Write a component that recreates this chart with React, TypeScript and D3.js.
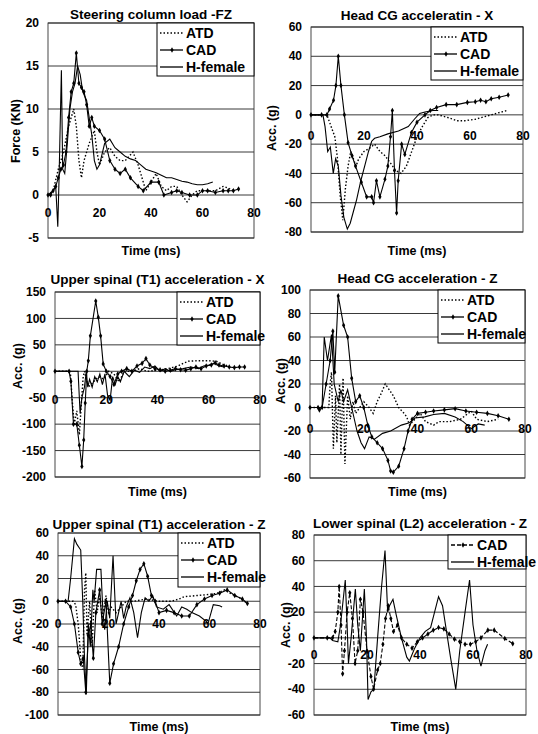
import * as d3 from 'd3';

type Pt = [number, number];

const xTicks = [0, 20, 40, 60, 80];

// Steering column load -FZ (kN)
const fzTicks = [-5, 0, 5, 10, 15, 20];
const fzATD: Pt[] = [[0,0],[2,0.5],[4,3],[6,5],[8,8],[10,10],[11,8],[12,4],[13,2],[14,4],[16,6],[18,7.5],[19,5],[20,3.5],[22,5],[24,5.5],[26,4.5],[28,4],[30,4],[33,5],[35,3.5],[38,0.5],[40,1.5],[42,2.5],[44,1],[46,0.5],[48,1],[50,1],[52,0],[54,-0.8],[56,0],[58,0.5],[62,0.5],[65,0.5],[68,1],[70,0.8],[72,0.5]];
const fzCAD: Pt[] = [[0,0],[1,0],[2,0.5],[3,1],[4,2],[5,3],[6,3.5],[7,5],[8,9],[9,12],[10,13],[11,16.5],[12,13],[13,12.5],[14,12],[15,10.5],[16,8],[17,9],[18,8],[20,7.5],[22,6.5],[24,4],[26,3],[28,2.5],[30,3],[32,2],[35,1],[37,0.5],[40,1.5],[43,1.5],[45,0],[48,0.3],[50,0.5],[52,0.3],[55,0],[58,0],[60,0.5],[62,0.5],[65,0.3],[68,0.5],[70,0.5],[72,0.5],[74,0.7]];
const fzHF: Pt[] = [[0,0],[2,0.5],[3,1],[3.8,-3.7],[4.3,2],[5.2,14.5],[5.7,3],[6.5,2.5],[7.5,6],[8.5,10],[9.5,12],[10.5,13],[11.5,15],[12.5,14],[13.5,12],[15,11],[16,9],[17,7],[18,4],[19,3],[20,3.5],[22,6],[24,6.5],[26,5.5],[28,5],[30,4.5],[32,4.2],[34,4],[36,3.5],[38,3],[40,2.8],[42,2.6],[44,2.3],[46,2],[48,2],[50,1.8],[52,1.6],[54,1.5],[56,1.3],[58,1.2],[60,1.2],[62,1.3],[64,1.5]];

// Head CG acceleration - X (g)
const hxTicks = [-80, -60, -40, -20, 0, 20, 40, 60];
const hxATD: Pt[] = [[0,0],[4,0],[6,0],[7,-5],[8,-10],[9,-15],[10,-30],[11,-55],[12,-72],[13,-50],[14,-35],[15,-25],[16,-30],[17,-35],[18,-30],[20,-25],[22,-23],[24,-20],[26,-25],[28,-28],[30,-33],[32,-38],[34,-40],[36,-35],[38,-25],[40,-15],[42,-8],[44,-2],[46,0],[48,0],[50,-1],[52,-2],[55,-4],[58,-4],[62,-3],[66,-1],[70,1],[74,3]];
const hxCAD: Pt[] = [[0,0],[4,0],[6,0],[7,4],[8.5,10],[9.4,20],[10.3,40],[11.3,20],[12.6,0],[14,-19],[15.5,-28],[16.8,-35],[19,-46],[21,-56],[22.9,-56],[23.6,-60],[24.7,-45],[26,-56],[27.9,-44],[29,-35],[30,-15],[30.7,3],[31.5,-38],[32.3,-67],[32.9,-45],[34.2,-20],[35.4,-27],[37.9,-12],[40,-5],[43,0],[45,3],[47.4,5],[51,7],[55,7],[59,8.5],[62,9],[64,10],[66,9],[68,11],[71,12],[74.4,13.6]];
const hxHF: Pt[] = [[0,0],[4.5,0],[5.3,-8],[6.3,-25],[7.3,-22],[8.4,-40],[9.3,-30],[10.3,-35],[11.3,-55],[12.4,-70],[13.7,-78],[14.8,-74],[16,-66],[17.2,-58],[18.8,-45],[20.4,-34],[21.7,-25],[22.9,-18],[24,-16],[26,-15],[29,-13],[33,-11],[36.7,-8],[39,-3],[41,1],[43,2],[46,3],[48,3]];

// Upper spinal (T1) acceleration - X (g)
const t1xTicks = [-200, -150, -100, -50, 0, 50, 100, 150];
const t1xATD: Pt[] = [[0,0],[5,0],[6,-3],[6.8,-60],[7.5,-100],[8.5,-75],[9.5,-120],[10.3,-60],[11,-10],[11.5,0],[13,-30],[15,-20],[17,-10],[19,-15],[21,0],[23,-5],[25,-20],[27,0],[30,0],[33,5],[36,0],[40,2],[44,5],[48,10],[50,15],[52,19],[56,20],[60,20],[63,19],[66,12],[68,10]];
const t1xCAD: Pt[] = [[0,0],[5.5,0],[6.2,-19],[7.2,-100],[8.5,-100],[9.5,-140],[10.5,-180],[11.2,-130],[11.8,-60],[12.4,0],[13,20],[13.8,67],[15.9,133],[16.9,102],[17.8,67],[18.8,14],[20,0],[21.5,-10],[23,-25],[24.5,-5],[26,0],[28,5],[30,0],[32,10],[34,15],[35.5,24],[37,12],[39,5],[41,3],[43,0],[45,2],[47,5],[49,3],[51,2],[53,5],[55,8],[57,5],[59,10],[61,12],[62.5,16],[64,12],[66,10],[68,8],[70,7],[72,8],[74,8]];
const t1xHF: Pt[] = [[0,0],[9,0],[9.8,-80],[10.5,-50],[11.5,-30],[12.2,0],[12.8,-30],[13.5,-15],[14.5,-30],[15.5,-10],[16.5,-20],[17.5,-5],[18.5,-25],[19.5,-5],[20.5,-45],[21.5,-55],[22.5,-10],[23.5,-25],[24.5,-10],[25.5,-20],[27,0],[29,-10],[31,2],[33,-2],[35,8],[37,5],[39,10],[41,0],[43,5],[45,0],[47,3],[50,5],[53,8],[56,5],[58,10],[60,12],[62,15],[64,10],[66,8]];

// Head CG acceleration - Z (g)
const hzTicks = [-60, -40, -20, 0, 20, 40, 60, 80, 100];
const hzATD: Pt[] = [[0,0],[7,0],[7.5,20],[8,30],[8.7,-35],[9.5,10],[10,-30],[11,20],[11.5,-40],[12.3,25],[13,-48],[14,10],[15,-10],[16,5],[17,-5],[18.5,0],[20,5],[22,0],[23.5,-5],[25,5],[26.5,12],[28,20],[29.5,15],[31,10],[33,0],[35,-5],[36,-8],[37,-15],[39,-10],[41,-5],[43,-12],[46,-15],[48,-12],[52,-12],[56,-10],[60,-3],[62,-10],[66,-12],[70,-10]];
const hzCAD: Pt[] = [[0,0],[3,0],[3.5,-2],[4.5,0],[6,20],[7.5,40],[8.5,65],[9.2,30],[10.5,95],[12.5,70],[14,60],[15.5,25],[17,5],[18.5,10],[20,0],[21.5,-15],[23,-25],[25,-30],[27,-35],[29,-45],[30,-54],[31,-55],[33,-50],[35,-35],[36.5,-20],[38,-10],[40,-5],[43,-4],[46,-3],[50,-2],[54,-1],[58,-3],[62,-4],[66,-5],[70,-7],[74,-10]];
const hzHF: Pt[] = [[0,0],[4.5,0],[5.3,60],[6.5,40],[8,62],[9,20],[10.5,5],[11.5,15],[12.5,5],[14,15],[15,5],[16.5,-10],[17.5,-20],[19,-30],[20.3,-35],[22,-25],[24,-27],[27,-22],[30,-20],[34,-15],[37,-13],[39,-9],[42.7,-8],[46,-6],[50,-5],[54,-8],[57,-12],[60,-18],[62.6,-14],[65,-15]];

// Upper spinal (T1) acceleration - Z (g)
const t1zTicks = [-100, -80, -60, -40, -20, 0, 20, 40, 60];
const t1zATD: Pt[] = [[0,0],[6,0],[7,-3],[8,-20],[9,-50],[9.8,-60],[10.5,10],[11,25],[11.5,-30],[12.5,0],[13.5,-40],[14.5,10],[15.5,-10],[16.5,5],[17.5,-15],[19,5],[20,-10],[21,-5],[23,-10],[25,-5],[27,0],[30,0],[35,2],[40,0],[45,0],[48,2],[50,4],[55,5],[60,6],[63,7],[66,10],[69,6],[72,3],[75,-2]];
const t1zCAD: Pt[] = [[0,0],[3,0],[5,-5],[6.5,-20],[8,-45],[9,-55],[10,-50],[11,-80],[12,-30],[13,-20],[14,-50],[15,-10],[16.5,10],[17.5,-20],[19,0],[20.5,-72],[22,-55],[24,-40],[26,-20],[28,-5],[29.5,5],[31,18],[32.5,28],[34,33],[35.5,22],[37,5],[38.5,0],[40,-10],[43,-8],[46,-10],[49,-13],[52,-13],[55,-3],[58,2],[61,5],[64,7],[67,10],[70,5],[73,2],[75,-2]];
const t1zHF: Pt[] = [[0,0],[4,0],[5,20],[6.5,55],[7.5,50],[9,45],[9.8,0],[10.5,-50],[11.2,-82],[12,-20],[12.8,-40],[13.8,10],[14.3,0],[15.3,28],[17,28],[17.8,-10],[18.5,-25],[19.5,0],[20.5,-15],[21.8,40],[23,-20],[24,-10],[25,0],[26,-15],[27,-5],[28.5,3],[30,-10],[31.5,-32],[33,-10],[34.5,3],[36,0],[37.5,5],[39,-5],[41.7,-7],[44,-3],[47,-13],[49,-5],[51,-7],[53,-10],[56,-13],[59.5,-19],[61.5,-3],[64,-4],[65,-5]];

// Lower spinal (L2) acceleration - Z (g)
const l2zTicks = [-60, -40, -20, 0, 20, 40, 60, 80];
const l2zCAD: Pt[] = [[0,0],[5,0],[7,0],[8,5],[9,20],[9.5,40],[10.2,10],[10.8,-28],[11.5,-10],[12.5,20],[13.5,35],[14.5,15],[15.5,-20],[16.5,-10],[17.5,30],[18.5,20],[20,-10],[21.5,-30],[22.5,-40],[24,-25],[25,-20],[26,-5],[27,15],[28,25],[29,15],[30,5],[31.5,10],[33,0],[35,-5],[37,-8],[39,-3],[41,0],[43,3],[45,6],[47,8],[49,7],[51,3],[53,-1],[55,-3],[57,-5],[59,-5],[61,-3],[63,0],[65.6,6],[68,6],[72,-0.5],[75,-4.5]];
const l2zHF: Pt[] = [[0,0],[6,0],[7,-2],[9,-3],[10,10],[11.8,45],[12.5,10],[13,-20],[14,0],[15.6,38],[16.5,10],[17.5,-10],[19,38],[19.8,0],[20.4,-48],[21.5,-42],[22.6,-40],[24,0],[25.5,40],[26.8,68],[27.8,20],[28.5,25],[29.8,30],[31,18],[33,0],[35,-15],[36,-18],[38,-8],[40,0],[42,5],[44,8],[45.5,20],[47,32],[48.5,25],[50,5],[51.5,-15],[53.5,-40],[55,-10],[57,20],[58.7,45],[60,10],[61.5,-10],[63,-22],[64.5,-10],[65.5,-5]];

type Kind = 'dot' | 'mark' | 'solid' | 'dashmark';
type Panel = {
  title: string; yLabel: string; ticks: number[];
  l: number; r: number; t: number; b: number;
  titleY: number; xTitleY: number; tickDy: number;
  yLab: [number, number]; leg: [number, number];
  series: [string, Pt[], Kind][];
};

const panels: Panel[] = [
  { title: 'Steering column load -FZ', yLabel: 'Force (KN)', ticks: fzTicks,
    l: 48, r: 254, t: 23, b: 238, titleY: 19, xTitleY: 255, tickDy: 18,
    yLab: [16, 131], leg: [157, 76],
    series: [['ATD', fzATD, 'dot'], ['CAD', fzCAD, 'mark'], ['H-female', fzHF, 'solid']] },
  { title: 'Head CG acceleratin - X', yLabel: 'Acc. (g)', ticks: hxTicks,
    l: 311, r: 523, t: 27, b: 232, titleY: 20, xTitleY: 255, tickDy: 21,
    yLab: [272, 128], leg: [431, 80],
    series: [['ATD', hxATD, 'dot'], ['CAD', hxCAD, 'mark'], ['H-female', hxHF, 'solid']] },
  { title: 'Upper spinal (T1) acceleration - X', yLabel: 'Acc. (g)', ticks: t1xTicks,
    l: 55, r: 260, t: 292, b: 477, titleY: 284, xTitleY: 496, tickDy: 29,
    yLab: [18, 366], leg: [177, 345],
    series: [['ATD', t1xATD, 'dot'], ['CAD', t1xCAD, 'mark'], ['H-female', t1xHF, 'solid']] },
  { title: 'Head CG acceleration - Z', yLabel: 'Acc. (g)', ticks: hzTicks,
    l: 310, r: 525, t: 290, b: 478, titleY: 283, xTitleY: 496, tickDy: 21,
    yLab: [281, 381], leg: [438, 343],
    series: [['ATD', hzATD, 'dot'], ['CAD', hzCAD, 'mark'], ['H-female', hzHF, 'solid']] },
  { title: 'Upper spinal (T1) acceleration - Z', yLabel: 'Acc. (g)', ticks: t1zTicks,
    l: 58, r: 260, t: 533, b: 715, titleY: 529, xTitleY: 731, tickDy: 23,
    yLab: [18, 621], leg: [178, 587],
    series: [['ATD', t1zATD, 'dot'], ['CAD', t1zCAD, 'mark'], ['H-female', t1zHF, 'solid']] },
  { title: 'Lower spinal (L2) acceleration - Z', yLabel: 'Acc. (g)', ticks: l2zTicks,
    l: 314, r: 526, t: 535, b: 715, titleY: 528, xTitleY: 731, tickDy: 17,
    yLab: [286, 625], leg: [448, 569],
    series: [['CAD', l2zCAD, 'dashmark'], ['H-female', l2zHF, 'solid']] },
];

const font = "'Liberation Sans', Arial, sans-serif";
const diamond = d3.symbol().type(d3.symbolDiamond).size(9)() as string;

function Chart({ p }: { p: Panel }) {
  const x = d3.scaleLinear().domain([0, 80]).range([p.l, p.r]);
  const y = d3.scaleLinear().domain(d3.extent(p.ticks) as [number, number]).range([p.b, p.t]);
  const line = d3.line<Pt>().x(d => x(d[0])).y(d => y(d[1]));
  const dash = (k: Kind) => (k === 'dot' ? '1.5 2' : k === 'dashmark' ? '4 2' : undefined);

  return (
    <g>
      <text x={(p.l + p.r) / 2} y={p.titleY} textAnchor="middle" fontSize={13.5}>{p.title}</text>
      {p.ticks.map(v => (
        <line key={v} x1={p.l} x2={p.r} y1={y(v)} y2={y(v)} stroke="#222" strokeWidth={0.9} />
      ))}
      <rect x={p.l} y={p.t} width={p.r - p.l} height={p.b - p.t} fill="none" stroke="#333" strokeWidth={0.9} />
      {p.ticks.map(v => (
        <text key={v} x={p.l - 9} y={y(v)} dy="0.35em" textAnchor="end" fontSize={12}>{v}</text>
      ))}
      {p.series.map(([name, data, kind]) => (
        <g key={name}>
          <path d={line(data) ?? ''} fill="none" stroke="#000" strokeWidth={kind === 'dot' ? 1.4 : 1.1}
            strokeDasharray={dash(kind)} />
          {(kind === 'mark' || kind === 'dashmark') && data.map((d, i) => (
            <path key={i} d={diamond} transform={`translate(${x(d[0])},${y(d[1])})`} fill="#000" />
          ))}
        </g>
      ))}
      {xTicks.map(v => (
        <text key={v} x={x(v)} y={y(0) + p.tickDy} dy="0.35em" textAnchor="middle" fontSize={12}>{v}</text>
      ))}
      <text x={(p.l + p.r) / 2} y={p.xTitleY} textAnchor="middle" fontSize={12.5}>Time (ms)</text>
      <text transform={`translate(${p.yLab[0]},${p.yLab[1]}) rotate(-90)`} dy="0.35em" textAnchor="middle" fontSize={12.5}>{p.yLabel}</text>
      <rect x={p.leg[0]} y={p.t} width={p.r - p.leg[0]} height={p.leg[1] - p.t} fill="#fff" stroke="#000" strokeWidth={1} />
      {p.series.map(([name, , kind], i) => {
        const ly = p.t + 10 + i * 17;
        const lx = p.leg[0] + 3;
        return (
          <g key={name}>
            <line x1={lx} x2={lx + 23} y1={ly} y2={ly} stroke="#000" strokeWidth={1.3} strokeDasharray={dash(kind)} />
            {(kind === 'mark' || kind === 'dashmark') && (
              <path d={diamond} transform={`translate(${lx + 12},${ly})`} fill="#000" />
            )}
            <text x={lx + 26} y={ly} dy="0.35em" fontSize={14}>{name}</text>
          </g>
        );
      })}
    </g>
  );
}

export default function App() {
  return (
    <svg width={538} height={734} style={{ position: 'absolute', left: 0, top: 0, background: '#fff' }}
      fontFamily={font} fontWeight="bold">
      {panels.map(p => <Chart key={p.title} p={p} />)}
    </svg>
  );
}
